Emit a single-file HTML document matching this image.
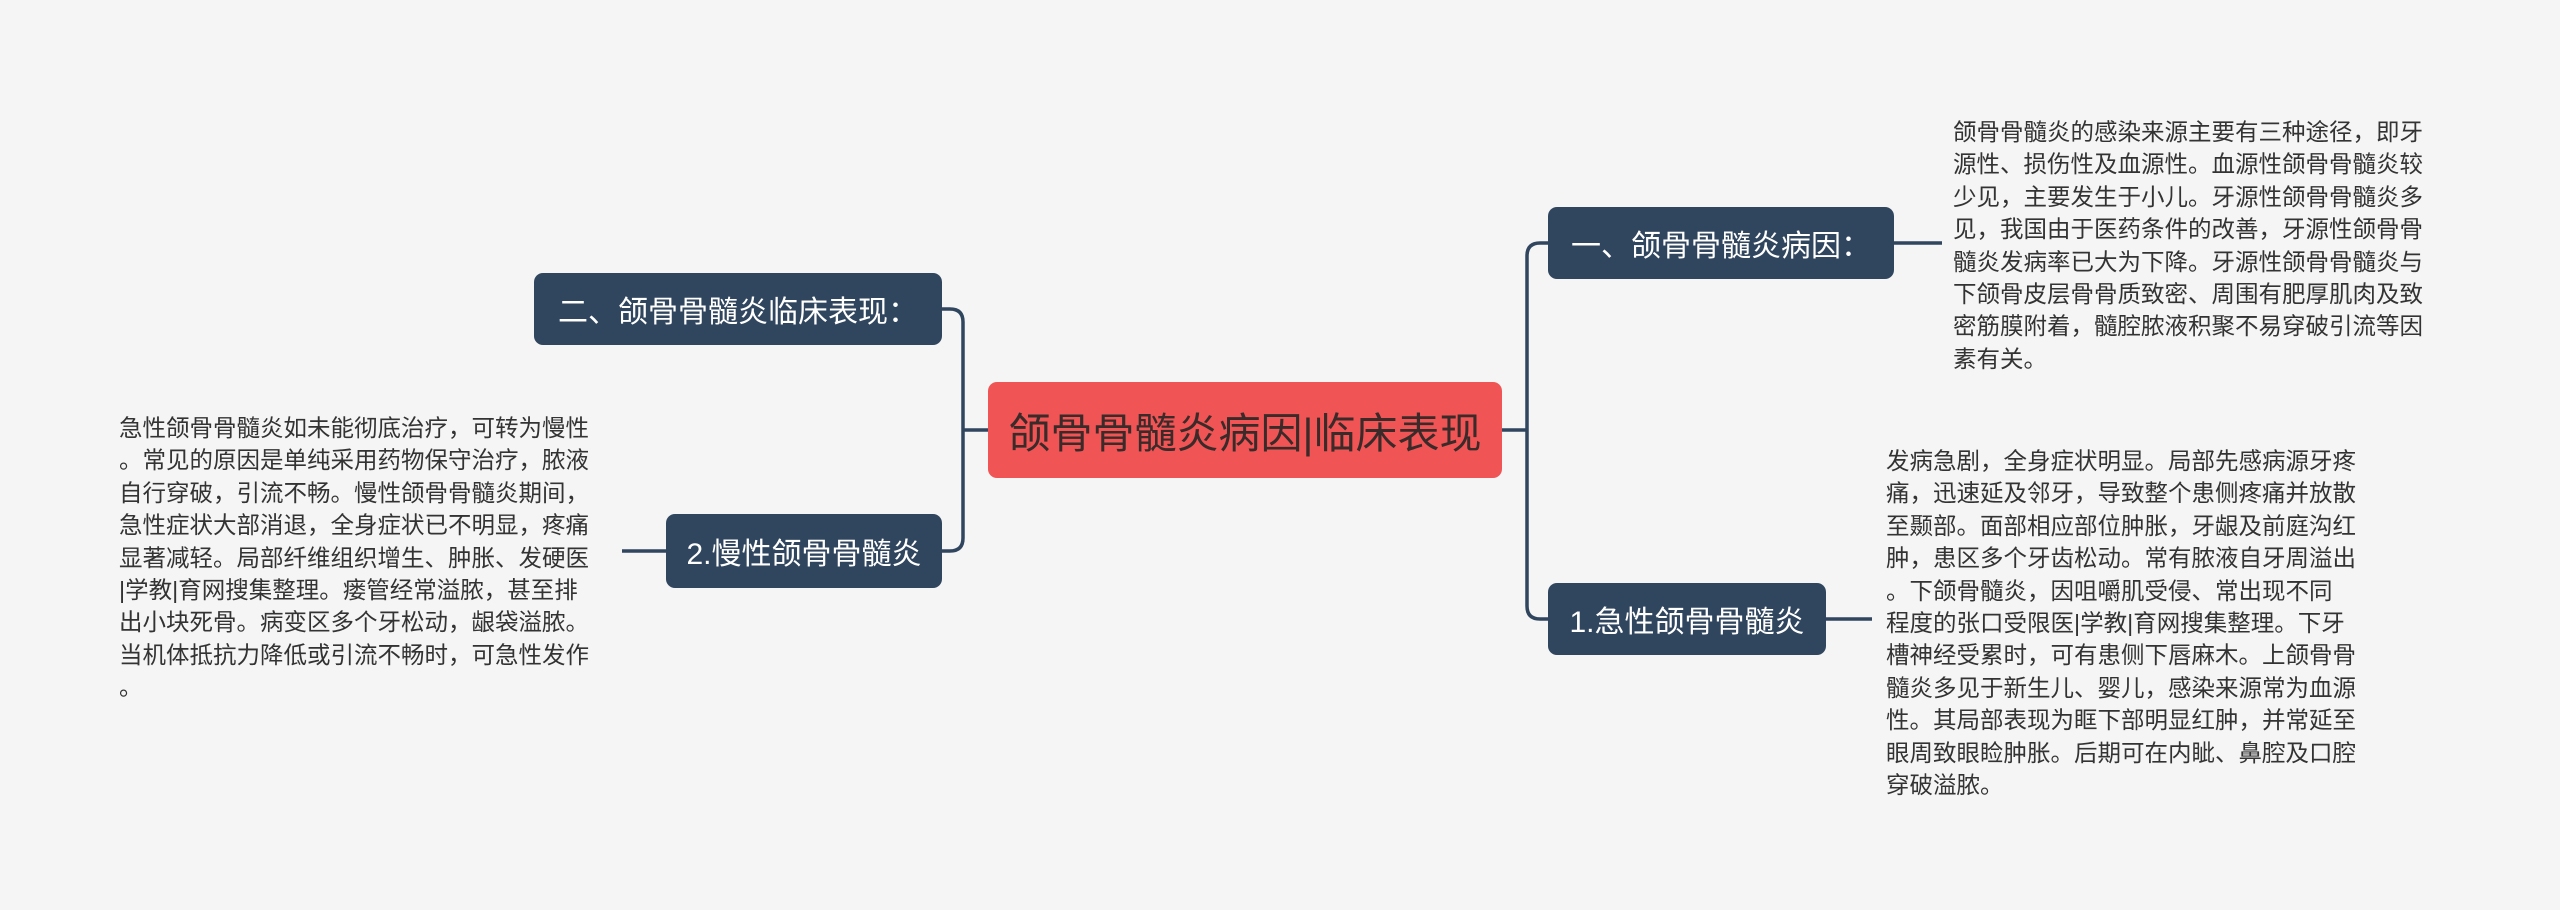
<!DOCTYPE html>
<html><head><meta charset="utf-8"><style>
body{margin:0;width:2560px;height:910px;background:#f5f5f5;position:relative;overflow:hidden;font-family:"Liberation Sans","Noto Sans CJK SC",sans-serif}
.n{position:absolute;background:#30455e;color:#fff;border-radius:9px;display:flex;align-items:center;justify-content:center;font-size:30px;white-space:nowrap;box-sizing:border-box}
.t{position:absolute;color:#333;font-size:23.5px;line-height:32.4px;white-space:nowrap}
</style></head><body>
<svg width="2560" height="910" style="position:absolute;left:0;top:0" fill="none" stroke="#30455e" stroke-width="3.5">
<path d="M988 430 H963 M942 309 H950 Q963 309 963 322 V538 Q963 551 950 551 H942"/>
<path d="M1502 430 H1527 M1548 243 H1540 Q1527 243 1527 256 V606 Q1527 619 1540 619 H1548"/>
<path d="M1894 243 H1942 M1826 619 H1872 M666 551 H622"/>
</svg>
<div class="n" style="left:988px;top:382px;width:514px;height:96px;background:#f05454;color:#3a2a2a;font-size:42px">颌骨骨髓炎病因|临床表现</div>
<div class="n" style="left:534px;top:273px;width:408px;height:72px">二、颌骨骨髓炎临床表现：</div>
<div class="n" style="left:666px;top:514px;width:276px;height:74px">2.慢性颌骨骨髓炎</div>
<div class="n" style="left:1548px;top:207px;width:346px;height:72px">一、颌骨骨髓炎病因：</div>
<div class="n" style="left:1548px;top:583px;width:278px;height:72px">1.急性颌骨骨髓炎</div>
<div class="t" style="left:1953px;top:116px">颌骨骨髓炎的感染来源主要有三种途径，即牙<br>源性、损伤性及血源性。血源性颌骨骨髓炎较<br>少见，主要发生于小儿。牙源性颌骨骨髓炎多<br>见，我国由于医药条件的改善，牙源性颌骨骨<br>髓炎发病率已大为下降。牙源性颌骨骨髓炎与<br>下颌骨皮层骨骨质致密、周围有肥厚肌肉及致<br>密筋膜附着，髓腔脓液积聚不易穿破引流等因<br>素有关。</div>
<div class="t" style="left:1886px;top:445px">发病急剧，全身症状明显。局部先感病源牙疼<br>痛，迅速延及邻牙，导致整个患侧疼痛并放散<br>至颞部。面部相应部位肿胀，牙龈及前庭沟红<br>肿，患区多个牙齿松动。常有脓液自牙周溢出<br>。下颌骨髓炎，因咀嚼肌受侵、常出现不同<br>程度的张口受限医|学教|育网搜集整理。下牙<br>槽神经受累时，可有患侧下唇麻木。上颌骨骨<br>髓炎多见于新生儿、婴儿，感染来源常为血源<br>性。其局部表现为眶下部明显红肿，并常延至<br>眼周致眼睑肿胀。后期可在内眦、鼻腔及口腔<br>穿破溢脓。</div>
<div class="t" style="left:119px;top:412px">急性颌骨骨髓炎如未能彻底治疗，可转为慢性<br>。常见的原因是单纯采用药物保守治疗，脓液<br>自行穿破，引流不畅。慢性颌骨骨髓炎期间，<br>急性症状大部消退，全身症状已不明显，疼痛<br>显著减轻。局部纤维组织增生、肿胀、发硬医<br>|学教|育网搜集整理。瘘管经常溢脓，甚至排<br>出小块死骨。病变区多个牙松动，龈袋溢脓。<br>当机体抵抗力降低或引流不畅时，可急性发作<br>。</div>
</body></html>
